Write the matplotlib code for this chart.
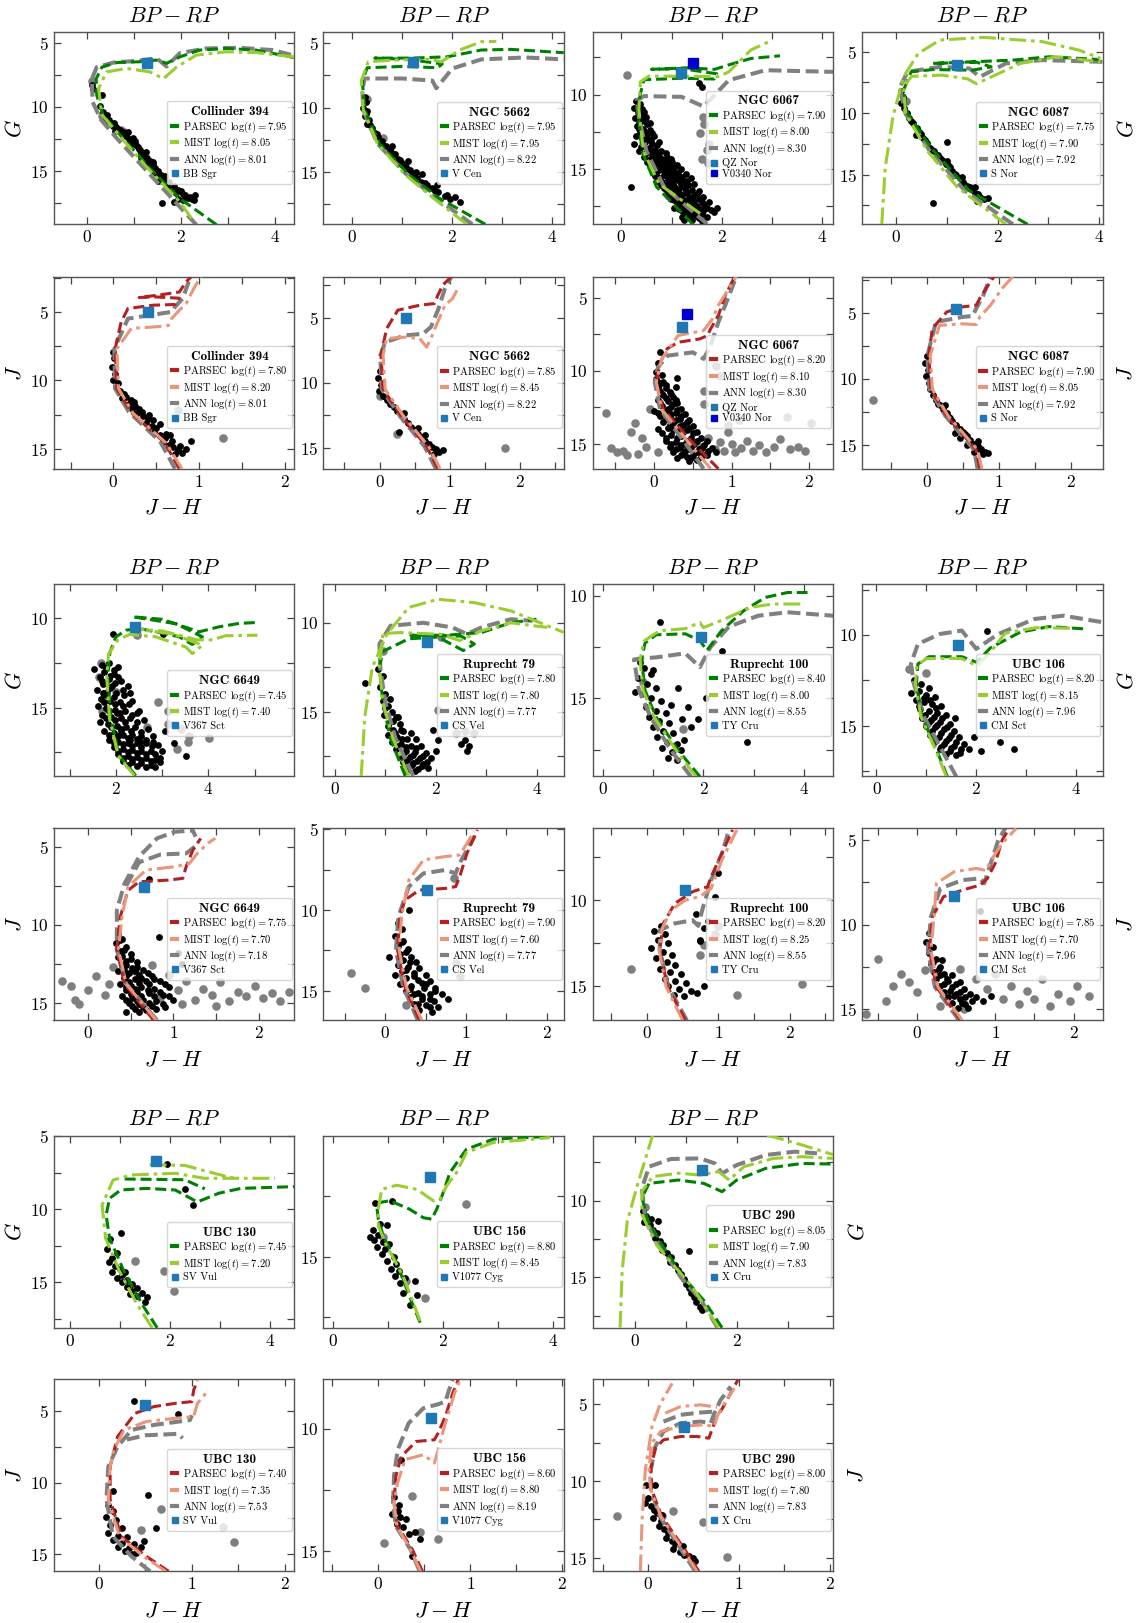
import numpy as np
import matplotlib
matplotlib.use("Agg")
import matplotlib.pyplot as plt
from matplotlib.lines import Line2D
from matplotlib.ticker import MultipleLocator

plt.rcParams["font.family"] = ["cmr10", "DejaVu Serif"]
plt.rcParams["mathtext.fontset"] = "cm"
plt.rcParams["axes.formatter.use_mathtext"] = True

# ---------------- data ----------------
# cluster names and cepheids
c394_name, c394_cephs = "Collinder 394", ["BB Sgr"]
n5662_name, n5662_cephs = "NGC 5662", ["V Cen"]
n6067_name, n6067_cephs = "NGC 6067", ["QZ Nor", "V0340 Nor"]
n6087_name, n6087_cephs = "NGC 6087", ["S Nor"]
n6649_name, n6649_cephs = "NGC 6649", ["V367 Sct"]
r79_name, r79_cephs = "Ruprecht 79", ["CS Vel"]
r100_name, r100_cephs = "Ruprecht 100", ["TY Cru"]
u106_name, u106_cephs = "UBC 106", ["CM Sct"]
u130_name, u130_cephs = "UBC 130", ["SV Vul"]
u156_name, u156_cephs = "UBC 156", ["V1077 Cyg"]
u290_name, u290_cephs = "UBC 290", ["X Cru"]

# log(t) for PARSEC, MIST, ANN (None = not shown)
c394_g_ages, c394_j_ages = [7.95, 8.05, 8.01], [7.80, 8.20, 8.01]
n5662_g_ages, n5662_j_ages = [7.95, 7.95, 8.22], [7.85, 8.45, 8.22]
n6067_g_ages, n6067_j_ages = [7.90, 8.00, 8.30], [8.20, 8.10, 8.30]
n6087_g_ages, n6087_j_ages = [7.75, 7.90, 7.92], [7.90, 8.05, 7.92]
n6649_g_ages, n6649_j_ages = [7.45, 7.40, None], [7.75, 7.70, 7.18]
r79_g_ages, r79_j_ages = [7.80, 7.80, 7.77], [7.90, 7.60, 7.77]
r100_g_ages, r100_j_ages = [8.40, 8.00, 8.55], [8.20, 8.25, 8.55]
u106_g_ages, u106_j_ages = [8.20, 8.15, 7.96], [7.85, 7.70, 7.96]
u130_g_ages, u130_j_ages = [7.45, 7.20, None], [7.40, 7.35, 7.53]
u156_g_ages, u156_j_ages = [8.80, 8.45, None], [8.60, 8.80, 8.19]
u290_g_ages, u290_j_ages = [8.05, 7.90, 7.83], [8.00, 7.80, 7.83]

# ---- Collinder 394 ----
c394_g_members = [(0.11,8.3),(0.14,8.6),(0.32,9.1),(0.28,9.9),(0.34,10.4),(0.40,10.9),(0.45,11.1),(0.52,11.3),(0.56,11.5),(0.63,11.6),(0.70,11.8),(0.78,12.0),(0.84,12.3),(0.90,12.5),(0.95,12.8),(0.99,12.4),(1.05,13.0),(1.10,13.3),(1.16,13.6),(1.20,13.9),(1.24,14.1),(1.30,14.4),(1.36,14.7),(1.40,14.3),(1.43,15.0),(1.48,15.2),(1.55,15.5),(1.61,15.8),(1.70,16.1),(1.80,16.4),(1.90,16.7),(2.00,16.6),(2.10,16.9),(2.20,17.0),(2.30,16.9),(1.95,17.2),(1.59,17.5),(1.85,17.4),(1.15,14.0),(1.00,12.9),(0.75,12.1),(0.60,11.9),(1.26,13.5),(1.66,15.4),(2.05,17.3),(2.23,17.2),(1.52,15.8),(0.88,12.0),
                  (0.42,10.6),(0.48,11.0),(0.58,11.3),(0.66,11.7),(0.72,11.9),(0.82,12.2),(0.92,12.6),(1.02,12.7),(1.08,13.1),(1.14,13.4),(1.22,13.7),(1.28,14.0),(1.34,14.2),(1.40,14.5),(1.46,14.8),(1.52,15.0),(1.58,15.3),(1.65,15.6),(1.75,15.9),(1.85,16.2),(1.95,16.5),(2.05,16.8),(2.15,17.1),(2.28,17.3)]
c394_g_others = [(0.12,8.0),(0.33,10.7),(0.72,11.8),(0.80,12.0),(1.60,15.6)]
c394_g_parsec = [(2.76,19.2),(1.98,17.16),(1.34,14.8),(0.71,12.2),(0.35,10.65),(0.21,9.09),(0.20,7.8),(0.32,6.9),(0.64,6.54),(1.13,6.48),(1.48,6.35),(1.70,6.6),(1.98,6.1),(2.40,5.57),(2.97,5.44),(3.60,5.57),(4.41,6.15)]
c394_g_mist = [(2.23,18.7),(1.95,17.3),(1.30,14.8),(0.68,12.2),(0.32,10.6),(0.25,8.57),(0.42,7.27),(0.85,7.0),(1.34,7.27),(1.63,7.8),(1.91,6.9),(2.33,5.96),(2.97,5.7),(3.6,5.76),(4.41,6.1)]
c394_g_ann = [(2.33,19.2),(1.9,17.5),(1.25,14.9),(0.6,12.3),(0.3,11.0),(0.12,9.6),(0.11,7.8),(0.21,6.9),(0.57,6.54),(1.1,6.4),(1.48,6.2),(1.70,6.85),(1.98,5.8),(2.54,5.44),(3.25,5.39),(3.96,5.57),(4.41,6.0)]
c394_g_ceph = [(1.29,6.6)]
c394_j_members = [(0.0,7.9),(0.01,8.4),(-0.02,9.0),(0.02,9.5),(0.0,10.0),(0.03,10.5),(0.08,10.8),(0.12,11.0),(0.15,11.2),(0.20,11.4),(0.18,11.7),(0.25,11.9),(0.30,12.1),(0.28,12.4),(0.35,12.6),(0.40,12.8),(0.38,13.1),(0.45,13.3),(0.50,13.5),(0.48,13.8),(0.55,14.0),(0.60,14.2),(0.58,14.5),(0.65,14.7),(0.70,14.9),(0.75,15.1),(0.80,15.3),(0.72,15.4),(0.91,14.4),(0.42,12.5),(0.62,13.9),(0.22,12.1),
                  (0.10,11.3),(0.24,11.6),(0.33,12.3),(0.46,12.9),(0.54,13.2),(0.66,14.0),(0.68,14.4),(0.78,14.8),(0.85,15.0),(0.05,10.2)]
c394_j_others = [(0.75,12.2),(1.28,14.2)]
c394_j_parsec = [(0.77,16.45),(0.6,14.56),(0.21,12.35),(0.04,10.6),(0.02,7.7),(0.09,5.74),(0.17,4.75),(0.47,4.51),(0.72,4.46),(0.77,4.0),(0.47,3.9),(0.30,3.95),(0.55,3.75),(0.77,3.55),(0.85,2.8),(0.91,2.43)]
c394_j_mist = [(0.80,16.45),(0.62,14.6),(0.23,12.4),(0.06,10.6),(0.04,7.7),(0.21,6.2),(0.47,6.1),(0.64,6.0),(0.68,5.49),(0.77,4.88),(0.85,4.4),(0.94,3.28),(1.02,2.43)]
c394_j_ann = [(0.72,16.45),(0.55,14.5),(0.18,12.3),(0.02,10.6),(0.01,7.7),(0.17,5.49),(0.47,5.2),(0.68,5.0),(0.72,4.63),(0.81,4.02),(0.88,2.79),(0.91,2.43)]
c394_j_ceph = [(0.40,5.0)]

# ---- NGC 5662 ----
n5662_g_members = [(0.25,9.2),(0.27,9.6),(0.22,10.0),(0.30,10.3),(0.26,10.7),(0.33,11.0),(0.30,11.3),(0.40,11.6),(0.45,12.0),(0.52,12.3),(0.60,12.6),(0.68,13.0),(0.75,13.3),(0.85,13.6),(0.92,14.0),(1.00,14.3),(1.08,14.6),(1.15,14.9),(1.22,15.2),(1.30,15.5),(1.38,15.8),(1.50,16.0),(1.60,16.3),(1.72,16.6),(1.85,16.9),(1.95,17.1),(2.05,17.0),(1.40,15.2),(1.12,14.2),(0.80,13.0),(1.70,16.0),(2.15,17.4),(1.28,15.0),
                   (0.28,10.5),(0.36,11.4),(0.50,12.1),(0.62,12.9),(0.78,13.5),(0.95,14.1),(1.05,14.8),(1.18,15.3),(1.45,15.9),(1.65,16.5),(1.90,16.8)]
n5662_g_others = [(0.30,9.3),(0.62,12.4)]
n5662_g_parsec = [(2.66,19.1),(1.71,17.0),(1.12,15.2),(0.54,12.8),(0.25,10.2),(0.20,7.9),(0.30,6.9),(1.0,6.8),(1.71,6.9),(1.80,6.6),(1.1,6.25),(0.45,6.15),(1.2,6.15),(1.9,6.05),(2.58,5.52),(3.17,5.47),(4.23,5.73)]
n5662_g_mist = [(2.29,19.1),(1.6,17.0),(1.05,15.2),(0.5,12.8),(0.22,10.2),(0.18,7.9),(0.32,6.44),(0.83,6.3),(1.56,6.25),(1.78,6.44),(2.15,5.52),(2.58,4.87),(2.88,4.85)]
n5662_g_ann = [(2.4,19.1),(1.65,17.0),(1.08,15.2),(0.5,12.8),(0.22,10.2),(0.2,8.6),(0.25,7.74),(1.0,7.74),(1.6,7.9),(1.68,8.5),(2.0,6.96),(2.58,6.25),(3.46,6.1),(4.23,6.25)]
n5662_g_ceph = [(1.21,6.44)]
n5662_j_members = [(0.0,9.1),(-0.02,9.6),(0.02,10.2),(-0.01,10.6),(0.05,11.0),(0.10,11.3),(0.15,11.6),(0.20,11.9),(0.25,12.2),(0.30,12.5),(0.35,12.8),(0.40,13.1),(0.45,13.4),(0.50,13.6),(0.55,13.9),(0.60,14.2),(0.65,14.5),(0.70,14.7),(0.75,14.9),(0.80,15.1),(0.85,15.3),(0.78,15.5),(0.90,15.2),(0.35,12.3),(0.55,13.5),(0.28,13.8),(0.65,14.0)]
n5662_j_others = [(0.25,13.9),(1.79,15.0),(0.0,11.0)]
n5662_j_parsec = [(0.83,16.6),(0.67,14.9),(0.31,12.55),(0.05,10.5),(0.02,7.9),(0.10,5.85),(0.26,4.43),(0.57,4.05),(0.78,3.92),(0.83,3.27),(0.90,2.5),(1.02,1.86)]
n5662_j_mist = [(0.86,16.6),(0.7,14.9),(0.34,12.55),(0.08,10.5),(0.05,7.9),(0.10,6.6),(0.36,6.5),(0.57,6.6),(0.67,7.27),(0.73,6.6),(0.83,5.3),(0.93,4.05),(1.04,3.53),(1.1,2.9)]
n5662_j_ann = [(0.80,16.6),(0.64,14.9),(0.29,12.55),(0.03,10.5),(0.01,7.9),(0.08,6.9),(0.36,6.37),(0.62,6.24),(0.73,5.72),(0.83,4.43),(0.93,2.76),(1.02,1.86)]
n5662_j_ceph = [(0.38,5.0)]

# ---- NGC 6067 ----
n6067_g_members = [(0.30,10.4),(0.38,10.6),(0.26,10.9),(0.42,11.0),(0.33,11.2),(0.40,11.4),(0.28,11.6),(0.47,11.7),(0.36,11.9),(0.52,12.0),(0.31,12.1),(0.44,12.3),(0.58,12.4),(0.38,12.6),(0.50,12.7),(0.65,12.8),(0.42,12.95),(0.56,13.0),(0.48,13.2),(0.62,13.3),(0.72,13.4),(0.40,13.5),(0.55,13.6),(0.68,13.7),(0.80,13.8),(0.50,13.9),(0.62,14.0),(0.75,14.1),(0.90,14.2),(0.58,14.3),(0.70,14.4),(0.85,14.5),(1.00,14.55),(0.62,14.6),(0.78,14.7),(0.95,14.8),(0.68,14.9),(0.88,15.0),(1.05,14.95),(0.75,15.1),(0.95,15.2),(1.12,15.25),(0.70,15.35),(0.85,15.4),(1.02,15.5),(1.20,15.55),(0.78,15.6),(0.92,15.7),(1.10,15.75),(0.82,15.85),(1.00,15.9),(1.30,15.8),(1.18,16.0),(0.88,16.1),(1.05,16.15),(1.25,16.2),(0.95,16.3),(1.15,16.35),(1.40,16.4),(0.90,16.5),(1.08,16.55),(1.30,16.6),(1.00,16.7),(1.20,16.75),(1.50,16.7),(1.12,16.9),(1.35,16.95),(0.98,17.0),(1.25,17.1),(1.45,17.15),(1.10,17.25),(1.60,17.2),(1.30,17.35),(1.20,17.5),(1.50,17.5),(1.38,17.65),(1.15,17.7),(1.62,17.8),(1.28,17.9),(1.45,18.0),(1.70,17.6),(1.35,18.2),(1.55,18.3),(1.25,18.4),(1.85,17.9),(1.05,17.6),(1.60,9.5),(1.55,9.2),(0.20,16.2),(1.90,17.6),(0.26,13.3),
                   (0.35,10.8),(0.45,11.2),(0.32,11.5),(0.50,11.5),(0.42,11.8),(0.58,11.9),(0.35,12.3),(0.48,12.5),(0.62,12.6),(0.30,12.8),(0.45,13.1),(0.60,13.1),(0.75,13.2),(0.35,13.8),(0.58,13.8),(0.72,13.9),(0.88,13.9),(0.45,14.2),(0.65,14.2),(0.82,14.3),(0.98,14.3),(0.52,14.5),(0.72,14.55),(0.90,14.6),(1.10,14.7),(0.58,14.8),(0.82,14.85),(1.00,14.9),(1.18,15.0),(0.62,15.1),(0.85,15.15),(1.05,15.3),(1.28,15.35),(0.68,15.5),(0.90,15.55),(1.15,15.6),(1.38,15.6),(0.72,15.8),(0.95,15.8),(1.22,15.85),(1.45,16.0),(0.80,16.05),(1.00,16.0),(1.32,16.1),(0.85,16.3),(1.05,16.4),(1.28,16.45),(1.55,16.5),(0.92,16.8),(1.15,16.6),(1.42,16.8),(1.62,16.9),(1.05,17.1),(1.35,17.1),(1.55,17.0),(1.75,17.2),(1.18,17.3),(1.42,17.4),(1.65,17.45),(1.10,17.5),(1.30,17.6),(1.55,17.7),(1.78,17.75),(1.20,17.85),(1.40,17.8),(1.60,18.0),(1.30,18.1),(1.50,18.15),(1.70,18.2),(1.40,18.4),(1.60,18.5),(1.20,18.2)]
n6067_g_others = [(1.62,11.5),(1.64,12.0),(1.57,12.6),(1.75,13.3),(1.70,13.7),(1.60,14.3),(1.72,14.6),(0.12,8.7)]
n6067_g_parsec = [(1.42,18.7),(0.7,16.2),(0.41,13.8),(0.33,11.06),(0.38,9.93),(0.45,9.0),(1.2,8.9),(1.85,8.95),(1.9,8.6),(1.2,8.25),(0.6,8.3),(1.3,8.2),(1.86,8.3),(2.14,8.0),(2.58,7.57),(3.16,7.39)]
n6067_g_mist = [(1.57,18.0),(0.75,16.0),(0.44,13.8),(0.35,11.0),(0.38,9.14),(0.55,8.76),(1.28,8.76),(1.93,8.8),(2.14,8.47),(2.58,7.0),(3.01,6.33)]
n6067_g_ann = [(1.71,18.7),(0.85,16.2),(0.5,13.8),(0.35,11.5),(0.3,10.4),(0.45,10.1),(1.2,10.15),(1.64,10.8),(2.14,9.03),(2.87,8.36),(4.22,8.47)]
n6067_g_ceph = [(1.19,8.54),(1.42,7.9)]
n6067_j_members = [(0.08,8.7),(0.05,9.5),(0.03,10.1),(0.10,10.3),(0.02,10.6),(0.12,10.8),(0.06,11.0),(0.15,11.2),(0.08,11.4),(0.20,11.5),(0.12,11.7),(0.25,11.8),(0.05,12.0),(0.18,12.1),(0.30,12.2),(0.10,12.4),(0.22,12.5),(0.35,12.6),(0.15,12.8),(0.28,12.9),(0.40,13.0),(0.08,13.1),(0.20,13.2),(0.33,13.3),(0.45,13.4),(0.12,13.5),(0.25,13.6),(0.38,13.7),(0.50,13.8),(0.18,13.9),(0.30,14.0),(0.42,14.1),(0.55,14.2),(0.10,14.3),(0.22,14.4),(0.35,14.5),(0.48,14.6),(0.60,14.6),(0.15,14.8),(0.28,14.9),(0.40,15.0),(0.52,15.0),(0.65,15.1),(0.20,15.2),(0.33,15.3),(0.45,15.4),(0.58,15.4),(0.70,15.5),(0.25,15.6),(0.38,15.7),(0.50,15.8),(0.62,15.7),(0.30,16.0),(0.42,15.95),(0.75,15.3),(0.55,16.1),(0.68,14.8),(0.80,15.6),(0.05,14.0),(0.00,12.8),(0.30,10.5),(0.28,11.1),
                   (0.05,10.8),(0.15,11.0),(0.10,11.6),(0.22,11.6),(0.15,11.9),(0.28,12.0),(0.08,12.2),(0.25,12.3),(0.18,12.6),(0.30,12.7),(0.05,12.9),(0.22,13.0),(0.35,13.1),(0.15,13.3),(0.28,13.4),(0.42,13.5),(0.20,13.7),(0.33,13.8),(0.45,13.9),(0.25,14.1),(0.38,14.2),(0.50,14.3),(0.15,14.6),(0.30,14.6),(0.42,14.8),(0.55,14.8),(0.22,15.0),(0.35,15.1),(0.48,15.2),(0.62,15.3),(0.28,15.4),(0.40,15.5),(0.55,15.6),(0.68,15.75),(0.35,15.8),(0.48,16.0),(0.60,15.9),(0.45,16.2)]
n6067_j_others = [(-0.62,12.9),(-0.55,15.3),(-0.48,15.6),(-0.40,15.5),(-0.30,14.2),(-0.25,13.6),(-0.15,14.6),(-0.10,15.2),(-0.05,12.6),(-0.35,15.8),(-0.20,15.7),(0.05,15.6),(0.60,15.2),(0.70,14.6),(0.78,15.4),(0.85,14.9),(0.90,15.5),(1.00,15.0),(1.05,15.6),(1.12,15.3),(1.20,14.8),(1.28,15.5),(1.35,15.1),(1.45,15.6),(1.55,15.2),(1.62,14.7),(1.75,15.4),(1.85,15.2),(1.95,15.5),(0.95,14.2),(1.10,13.4),(0.65,11.4),(0.85,10.4),(0.80,9.7),(1.72,13.2),(2.02,13.6),(0.65,12.3),(0.95,13.7)]
n6067_j_parsec = [(0.83,16.72),(0.50,14.95),(0.12,12.66),(0.03,10.8),(0.08,9.44),(0.17,8.5),(0.31,8.06),(0.59,7.83),(0.69,7.6),(0.73,7.14),(0.83,6.22),(0.92,4.84),(1.04,3.57)]
n6067_j_mist = [(0.73,16.72),(0.45,14.95),(0.10,12.66),(0.03,10.8),(0.10,9.2),(0.31,7.6),(0.64,7.25),(0.75,6.5),(0.83,5.53),(1.06,3.57)]
n6067_j_ann = [(0.64,16.72),(0.40,14.95),(0.08,12.66),(0.01,10.8),(0.05,9.8),(0.17,8.98),(0.50,8.75),(0.64,9.2),(0.73,8.29),(0.83,6.68),(0.97,4.84),(1.06,3.57)]
n6067_j_ceph = [(0.36,7.02),(0.43,6.1)]

# ---- NGC 6087 ----
n6087_g_members = [(0.10,8.2),(0.13,8.7),(0.10,9.2),(0.15,9.6),(0.20,10.0),(0.25,10.4),(0.32,10.8),(0.40,11.2),(0.45,11.5),(0.38,11.8),(0.52,12.0),(0.60,12.4),(0.66,12.8),(0.75,13.1),(0.82,13.4),(0.90,13.8),(0.97,14.1),(1.05,14.4),(1.10,14.7),(1.18,15.0),(1.25,15.3),(1.32,15.6),(1.40,15.9),(1.48,16.2),(1.55,16.5),(1.65,16.8),(1.72,17.0),(1.80,16.9),(1.30,15.2),(1.00,13.9),(1.55,16.0),(0.72,17.3),(1.60,17.1),(1.00,12.3),
                   (0.28,10.6),(0.48,11.7),(0.56,12.2),(0.70,13.0),(0.86,13.6),(1.02,14.2),(1.15,14.9),(1.35,15.8),(1.45,16.0),(1.62,16.6)]
n6087_g_others = [(0.18,9.0),(0.45,11.6)]
n6087_g_parsec = [(2.59,19.03),(1.44,16.3),(0.72,13.0),(0.22,10.04),(0.14,8.13),(0.29,6.63),(0.72,6.45),(1.5,6.5),(1.87,6.23),(1.58,5.85),(0.72,5.95),(1.5,5.82),(2.30,5.68),(3.02,5.41),(4.0,5.63)]
n6087_g_mist = [(2.16,19.03),(1.2,16.0),(0.6,13.0),(0.18,10.0),(0.14,7.86),(0.3,7.0),(0.9,6.9),(1.4,7.2),(1.58,7.6),(2.45,5.95),(3.17,5.41),(4.03,5.82),None,(-0.29,19.03),(-0.22,14.4),(-0.07,10.3),(0.14,7.04),(0.43,5.14),(0.86,4.05),(1.73,3.83),(2.88,4.18),(3.6,4.86),(4.03,5.54)]
n6087_g_ann = [(2.3,19.03),(1.35,16.3),(0.65,13.0),(0.18,10.04),(0.07,7.86),(0.22,6.63),(0.86,6.23),(1.44,6.36),(1.65,7.04),(2.16,5.95),(2.88,5.68),(4.07,5.82)]
n6087_g_ceph = [(1.19,6.09)]
n6087_j_members = [(0.0,8.3),(-0.03,8.8),(0.01,9.3),(-0.02,9.8),(0.02,10.3),(0.04,10.8),(0.08,11.2),(0.12,11.6),(0.18,12.0),(0.22,12.3),(0.27,12.6),(0.30,12.9),(0.35,13.2),(0.40,13.5),(0.45,13.8),(0.50,14.0),(0.55,14.3),(0.60,14.6),(0.65,14.9),(0.70,15.1),(0.75,15.3),(0.80,15.5),(0.85,15.6),(0.38,14.1),(0.55,15.0),(0.65,15.5),(0.25,12.0),(0.45,14.5),(0.70,14.7),
                   (0.15,11.9),(0.32,13.0),(0.42,13.7),(0.52,14.2),(0.62,14.9),(0.72,15.4),(0.78,15.7)]
n6087_j_others = [(-0.76,11.6)]
n6087_j_parsec = [(0.73,16.8),(0.68,15.36),(0.27,12.8),(0.05,10.8),(0.02,8.25),(0.07,6.2),(0.27,4.95),(0.48,4.57),(0.68,4.44),(0.73,3.93),(0.83,3.05),(0.93,2.28)]
n6087_j_mist = [(0.76,16.8),(0.70,15.36),(0.29,12.8),(0.07,10.8),(0.04,8.25),(0.17,5.96),(0.48,5.84),(0.68,5.9),(0.73,5.33),(0.88,4.44),(1.04,3.17),(1.19,2.28)]
n6087_j_ann = [(0.70,16.8),(0.65,15.36),(0.25,12.8),(0.03,10.8),(0.0,8.25),(0.12,5.71),(0.48,5.33),(0.63,5.25),(0.68,4.7),(0.78,3.68),(0.88,2.28)]
n6087_j_ceph = [(0.40,4.7)]

# ---- NGC 6649 ----
n6649_g_members = [(1.93,10.9),(1.53,12.85),(1.70,12.6),(1.85,12.5),(2.05,12.7),(1.75,13.0),(1.95,13.1),(1.65,13.3),(1.85,13.4),(2.10,13.5),(1.72,13.7),(1.92,13.8),(2.25,13.8),(1.60,14.0),(1.80,14.1),(2.00,14.2),(2.18,14.3),(1.68,14.5),(1.88,14.6),(2.08,14.7),(2.35,14.6),(1.62,14.9),(1.78,15.0),(1.98,15.1),(2.20,15.2),(2.45,15.3),(1.70,15.4),(1.90,15.5),(2.10,15.6),(2.30,15.6),(2.60,15.7),(1.65,15.8),(1.82,15.9),(2.02,16.0),(2.22,16.1),(2.42,16.1),(2.70,16.2),(1.75,16.3),(1.95,16.4),(2.15,16.5),(2.35,16.5),(2.55,16.6),(2.80,16.6),(1.85,16.8),(2.05,16.9),(2.25,16.95),(2.45,17.0),(2.65,17.0),(2.90,17.1),(1.95,17.2),(2.15,17.3),(2.35,17.35),(2.55,17.4),(2.75,17.4),(2.05,17.6),(2.25,17.7),(2.45,17.75),(2.65,17.8),(2.85,17.9),(2.15,18.0),(2.35,18.05),(2.55,18.1),(2.75,18.2),(2.95,17.8),(1.88,13.9),(2.12,16.3),(2.30,16.8),(2.52,16.9),(1.72,14.2),(2.02,15.3),(3.05,16.3),(3.51,17.7),(3.25,17.0),(2.50,15.2),(3.01,10.9),
                   (1.78,12.8),(1.95,12.9),(1.88,13.2),(2.05,13.3),(1.70,13.5),(1.98,13.6),(2.15,14.0),(1.78,14.3),(1.95,14.4),(2.30,14.2),(1.75,14.7),(1.98,14.8),(2.15,14.9),(2.28,14.8),(1.85,15.2),(2.08,15.3),(2.35,15.4),(1.78,15.6),(1.98,15.7),(2.20,15.8),(2.45,15.8),(1.90,16.1),(2.12,16.2),(2.32,16.3),(2.55,16.35),(1.85,16.55),(2.05,16.6),(2.25,16.7),(2.45,16.75),(2.65,16.8),(1.95,17.0),(2.15,17.05),(2.35,17.15),(2.55,17.2),(2.78,17.15),(2.05,17.4),(2.25,17.5),(2.45,17.55),(2.65,17.6),(2.85,17.6),(2.15,17.8),(2.35,17.85),(2.55,17.9),(2.75,18.0),(2.95,18.05),(2.25,18.2),(2.45,18.25),(2.65,18.3),(2.85,18.3),(3.0,17.4),(2.8,16.9)]
n6649_g_others = [(1.68,12.5),(1.64,13.3),(2.90,14.7),(3.12,15.2),(3.12,15.9),(3.33,17.3),(3.55,16.9),(4.01,16.7),(2.68,16.1),(2.0,14.1),(2.45,10.95),(1.70,15.2),(3.58,16.6),(3.4,16.2)]
n6649_g_parsec = [(2.43,18.8),(2.07,17.7),(1.89,15.6),(1.82,13.2),(1.87,11.9),(2.0,11.03),(2.22,10.66),(2.5,10.56),(3.37,11.03),(3.65,11.46),(3.87,11.03),(3.3,10.3),(2.36,9.91),(3.0,10.05),(3.80,10.75),(4.23,10.47),(4.66,10.28),(5.09,10.22)]
n6649_g_mist = [(2.40,18.8),(2.05,17.7),(1.86,15.6),(1.80,13.2),(1.84,12.0),(2.04,11.2),(2.29,10.9),(2.86,11.03),(3.51,11.6),(3.65,11.97),(3.87,11.5),(3.2,10.85),(2.4,10.6),(3.0,10.7),(3.75,11.2),(4.09,11.2),(4.37,10.97),(5.06,10.94)]
n6649_g_ann = None
n6649_g_ceph = [(2.41,10.47)]
n6649_j_members = [(0.72,7.1),(0.83,10.8),(0.35,10.6),(0.40,10.9),(0.33,11.2),(0.45,11.4),(0.38,11.7),(0.50,11.9),(0.35,12.1),(0.45,12.3),(0.58,12.4),(0.40,12.6),(0.52,12.8),(0.65,12.9),(0.35,13.0),(0.48,13.1),(0.60,13.2),(0.75,13.3),(0.42,13.4),(0.55,13.5),(0.68,13.6),(0.85,13.6),(0.38,13.8),(0.50,13.9),(0.62,14.0),(0.78,14.1),(0.95,14.0),(0.45,14.2),(0.58,14.3),(0.72,14.4),(0.88,14.5),(0.40,14.6),(0.52,14.7),(0.65,14.8),(0.80,14.9),(1.00,14.8),(0.48,15.0),(0.60,15.1),(0.75,15.2),(0.90,15.3),(0.55,15.4),(0.68,15.5),(1.10,12.5),(1.05,11.8),(0.45,15.6),
                   (0.38,11.0),(0.42,11.6),(0.40,12.0),(0.50,12.2),(0.45,12.6),(0.58,12.7),(0.42,12.9),(0.55,13.0),(0.70,13.1),(0.45,13.3),(0.62,13.4),(0.78,13.5),(0.48,13.7),(0.60,13.75),(0.72,13.8),(0.90,13.8),(0.45,14.0),(0.55,14.1),(0.70,14.2),(0.85,14.3),(0.50,14.45),(0.62,14.55),(0.78,14.6),(0.95,14.6),(0.45,14.8),(0.58,14.9),(0.72,15.0),(0.88,15.1),(0.52,15.2),(0.65,15.3),(0.80,15.4),(0.60,15.6)]
n6649_j_others = [(-0.3,13.6),(-0.2,13.9),(-0.15,14.8),(0.0,14.2),(0.1,13.3),(0.2,14.5),(0.25,13.8),(0.55,13.0),(0.75,12.6),(0.95,13.2),(1.05,14.2),(1.15,13.6),(1.25,14.8),(1.35,14.1),(1.45,14.5),(1.55,13.7),(1.65,14.9),(1.75,14.3),(1.85,14.6),(1.95,13.9),(2.05,14.7),(2.15,14.4),(2.25,14.9),(2.35,14.3),(1.10,15.1),(0.30,12.7),(-0.1,15.1),(1.5,15.2),(0.85,14.7)]
n6649_j_parsec = [(0.77,16.13),(0.43,13.8),(0.34,11.6),(0.38,9.5),(0.47,7.8),(0.6,7.25),(0.94,7.14),(1.11,7.03),(1.15,6.28),(1.23,5.2),(1.32,4.47)]
n6649_j_mist = [(0.80,16.13),(0.45,13.8),(0.36,11.6),(0.40,9.5),(0.47,7.57),(0.68,6.5),(1.02,6.28),(1.19,6.07),(1.28,5.43),(1.40,4.79),(1.49,4.46)]
n6649_j_ann = [(0.81,16.13),(0.45,13.8),(0.34,11.6),(0.34,9.07),(0.43,7.36),(0.6,5.64),(0.81,4.46),(1.02,4.04),(1.23,3.97),(1.26,4.36),None,(0.45,7.5),(0.6,6.0),(0.85,5.5),(1.15,5.43),(1.25,5.0)]
n6649_j_ceph = [(0.66,7.57)]

# ---- Ruprecht 79 ----
r79_g_members = [(0.59,13.4),(0.90,13.6),(1.00,14.0),(0.95,14.4),(1.05,14.7),(1.12,15.0),(0.98,15.2),(1.20,15.3),(1.08,15.6),(1.28,15.7),(1.15,16.0),(1.35,16.1),(1.50,16.2),(1.05,16.3),(1.22,16.4),(1.42,16.5),(1.60,16.5),(1.12,16.7),(1.30,16.8),(1.50,16.9),(1.70,16.9),(1.20,17.1),(1.40,17.2),(1.58,17.25),(1.80,17.3),(1.28,17.5),(1.48,17.55),(1.68,17.6),(1.90,17.6),(1.35,17.8),(1.55,17.9),(1.75,17.95),(1.45,18.1),(1.65,18.2),(1.85,18.15),(2.00,17.2),(2.05,16.6),(2.50,16.8),(2.62,17.2),(2.58,16.6),(1.95,16.0),(1.25,15.3),(0.85,12.6),(0.95,13.0),(1.10,14.3),
                 (1.05,15.8),(1.18,16.2),(1.32,16.5),(1.25,16.9),(1.40,17.0),(1.60,17.05),(1.35,17.35),(1.55,17.4),(1.75,17.5),(1.42,17.7),(1.62,17.75),(1.82,17.8),(1.52,18.0),(1.72,18.05),(1.58,18.3),(1.40,18.3),(1.15,15.5),(1.30,16.0),(1.00,14.8),(2.65,16.9)]
r79_g_others = [(2.40,16.2),(2.58,16.1),(2.75,16.2),(2.05,14.9),(0.95,11.6),(2.1,10.8)]
r79_g_parsec = [(1.39,18.6),(1.1,16.5),(0.95,14.5),(0.88,12.5),(0.95,11.6),(1.1,11.4),(1.46,10.9),(2.04,10.8),(2.54,11.56),(2.76,11.19),(2.5,10.75),(1.5,10.7),(2.2,10.7),(2.9,10.55),(3.48,10.0),(3.99,9.8)]
r79_g_mist = [(1.46,18.6),(1.15,16.5),(0.95,14.5),(0.88,12.5),(0.95,10.6),(1.3,10.55),(2.1,10.65),(2.47,11.0),(2.9,10.45),(3.48,10.0),(4.2,10.26),None,(0.52,18.62),(0.59,15.3),(0.74,12.5),(1.03,10.63),(1.46,9.14),(2.04,8.68),(2.76,8.87),(3.48,9.33),(4.53,10.54)]
r79_g_ann = [(1.55,18.6),(1.2,16.5),(1.0,14.5),(0.9,12.6),(0.88,11.19),(1.1,10.17),(1.75,10.0),(2.32,10.26),(2.61,10.63),(2.9,10.26),(3.48,9.8),(3.91,9.89)]
r79_g_ceph = [(1.82,11.1)]
r79_j_members = [(0.29,10.0),(0.15,10.8),(0.20,11.2),(0.12,11.6),(0.22,11.9),(0.15,12.2),(0.28,12.4),(0.18,12.7),(0.32,12.9),(0.22,13.1),(0.38,13.2),(0.15,13.4),(0.28,13.5),(0.42,13.6),(0.20,13.8),(0.35,13.9),(0.50,14.0),(0.25,14.2),(0.40,14.3),(0.55,14.4),(0.18,14.6),(0.32,14.7),(0.48,14.8),(0.62,14.8),(0.25,15.0),(0.40,15.1),(0.55,15.2),(0.70,15.2),(0.30,15.4),(0.45,15.5),(0.60,15.6),(0.35,15.8),(0.50,15.9),(0.65,16.0),(0.42,16.2),(0.58,16.3),(0.78,15.5),(0.12,14.0),(0.05,12.9),
                 (0.20,12.0),(0.25,12.6),(0.30,13.2),(0.25,13.7),(0.35,14.1),(0.45,14.5),(0.30,14.9),(0.45,15.3),(0.55,15.5),(0.40,15.8),(0.55,16.0),(0.35,15.2),(0.50,14.6),(0.62,15.0)]
r79_j_others = [(-0.43,13.9),(-0.25,14.8),(0.87,13.3),(0.92,14.1),(0.25,15.9),(0.85,8.0)]
r79_j_parsec = [(0.42,16.8),(0.24,14.75),(0.15,12.48),(0.18,10.4),(0.24,9.38),(0.42,8.76),(0.74,8.66),(0.87,8.55),(0.92,7.93),(1.01,6.49),(1.14,5.04)]
r79_j_mist = [(0.45,16.8),(0.26,14.75),(0.17,12.48),(0.2,10.4),(0.29,8.14),(0.47,6.9),(0.74,6.69),(0.92,6.59),(1.01,5.87),(1.10,5.14)]
r79_j_ann = [(0.40,16.8),(0.22,14.75),(0.13,12.48),(0.16,10.4),(0.29,8.55),(0.47,7.73),(0.74,7.52),(0.87,7.73),(0.92,7.1),(1.01,6.28),(1.10,5.45)]
r79_j_ceph = [(0.51,8.76)]

# ---- Ruprecht 100 ----
r100_g_members = [(1.13,11.3),(0.75,13.2),(0.82,13.5),(0.95,13.8),(0.70,14.0),(0.88,14.3),(1.05,14.5),(0.78,14.8),(0.95,15.0),(1.15,15.1),(0.85,15.4),(1.05,15.6),(1.25,15.7),(0.92,15.9),(1.12,16.1),(1.32,16.2),(1.00,16.4),(1.20,16.6),(1.40,16.7),(1.08,16.9),(1.28,17.1),(1.48,17.2),(1.18,17.4),(1.38,17.6),(1.55,17.5),(1.30,17.9),(1.48,18.0),(1.62,17.0),(1.75,16.4),(1.90,16.0),(2.36,12.7),(2.87,17.1),(1.50,14.5),(1.35,15.3),(0.65,14.7),(1.70,15.4),(1.58,16.0),(1.00,13.6),(2.05,15.0)]
r100_g_others = [(0.80,14.2),(1.60,16.5)]
r100_g_parsec = [(1.93,18.8),(1.49,17.5),(1.06,15.9),(0.84,14.6),(0.77,13.1),(0.84,12.3),(1.06,11.9),(1.64,11.85),(1.93,12.18),(2.07,12.66),(2.36,11.7),(2.80,10.73),(3.23,10.08),(3.67,9.84),(4.07,9.84)]
r100_g_mist = [(1.85,18.8),(1.45,17.5),(1.02,15.9),(0.8,14.6),(0.74,13.1),(0.82,12.2),(1.13,11.7),(1.64,11.6),(1.93,11.3),(2.0,11.55),(2.36,11.2),(2.94,10.56),(3.38,10.4),(3.96,10.4)]
r100_g_ann = [(1.75,18.8),(1.35,17.5),(0.95,15.9),(0.72,14.6),(0.62,13.1),(0.75,13.05),(1.06,13.0),(1.64,12.8),(1.93,13.47),(2.14,12.5),(2.51,11.5),(3.09,10.97),(3.67,10.8),(4.58,10.97)]
r100_g_ceph = [(1.96,12.0)]
r100_j_members = [(1.00,8.4),(0.95,9.8),(0.20,11.5),(0.10,11.8),(0.25,12.0),(0.15,12.3),(0.30,12.5),(0.05,12.8),(0.22,13.0),(0.35,13.2),(0.12,13.4),(0.28,13.6),(0.40,13.8),(0.18,14.0),(0.32,14.2),(0.48,14.3),(0.25,14.6),(0.40,14.7),(0.55,14.8),(0.30,15.0),(0.45,15.2),(0.62,15.3),(0.38,15.5),(0.52,15.6),(0.70,15.4),(0.80,15.0),(0.75,12.3),(0.85,11.2),(0.69,10.8),(0.80,11.6),(0.74,12.4)]
r100_j_others = [(-0.22,14.0),(2.17,14.9),(1.26,15.5),(0.8,12.6),(0.75,13.2),(0.95,12.0),(1.0,11.5)]
r100_j_parsec = [(0.54,17.0),(0.29,15.06),(0.18,12.9),(0.23,11.36),(0.39,10.2),(0.64,9.51),(0.85,9.22),(0.90,8.64),(1.05,7.28),(1.20,5.91)]
r100_j_mist = [(0.50,17.0),(0.27,15.06),(0.17,12.9),(0.22,11.6),(0.34,10.58),(0.54,10.0),(0.74,9.8),(0.90,9.32),(1.05,7.67),(1.26,5.91)]
r100_j_ann = [(0.56,17.0),(0.30,15.06),(0.18,12.9),(0.18,11.75),(0.39,11.36),(0.64,11.17),(0.72,11.5),(0.78,10.5),(0.9,8.83),(1.05,7.3),(1.15,5.91)]
r100_j_ceph = [(0.54,9.42)]

# ---- UBC 106 ----
u106_g_members = [(2.22,9.8),(0.75,12.5),(0.90,12.7),(1.05,12.9),(0.85,13.1),(1.00,13.3),(1.18,13.4),(0.80,13.6),(0.95,13.7),(1.12,13.8),(1.30,13.9),(0.88,14.1),(1.05,14.2),(1.22,14.3),(1.40,14.4),(0.92,14.6),(1.10,14.7),(1.28,14.8),(1.48,14.9),(1.00,15.0),(1.18,15.1),(1.35,15.2),(1.55,15.3),(1.08,15.5),(1.25,15.6),(1.45,15.7),(1.65,15.6),(1.15,15.9),(1.35,16.0),(1.55,16.1),(1.75,16.0),(1.28,16.3),(1.48,16.4),(1.68,16.5),(1.85,16.3),(2.47,15.9),(2.76,16.3),(0.70,13.2),(1.58,14.6),(1.95,15.6),(2.10,16.4),
                  (0.95,13.5),(1.08,13.6),(1.20,14.0),(0.98,14.4),(1.15,14.5),(1.32,14.6),(1.05,14.8),(1.22,14.95),(1.42,15.05),(1.12,15.3),(1.30,15.4),(1.50,15.5),(1.20,15.75),(1.40,15.85),(1.60,15.9),(1.30,16.15),(1.50,16.25),(1.70,16.3),(1.40,16.55),(1.60,16.6),(0.85,13.9)]
u106_g_others = [(0.65,11.9),(1.0,12.1)]
u106_g_parsec = [(1.42,17.8),(1.2,16.3),(0.91,14.5),(0.8,12.7),(0.83,11.6),(1.05,11.2),(1.71,11.2),(2.0,11.5),(2.29,10.7),(2.88,9.85),(3.46,9.54),(4.19,9.67)]
u106_g_mist = [(1.40,17.8),(1.18,16.3),(0.89,14.5),(0.78,12.7),(0.81,11.7),(1.0,11.3),(1.7,11.3),(2.02,11.7),(2.3,10.9),(2.58,9.9),(3.2,9.6),(3.9,9.63)]
u106_g_ann = [(1.6,17.8),(1.3,16.3),(0.95,14.5),(0.75,12.7),(0.69,11.6),(0.83,10.5),(1.27,9.95),(1.71,9.76),(2.0,10.77),(2.44,9.95),(3.17,9.12),(3.75,8.94),(4.53,9.3)]
u106_g_ceph = [(1.64,10.58)]
u106_j_members = [(0.81,9.2),(0.15,10.5),(0.12,11.0),(0.20,11.3),(0.15,11.7),(0.25,12.0),(0.18,12.3),(0.30,12.5),(0.22,12.8),(0.35,12.9),(0.45,13.0),(0.25,13.2),(0.40,13.3),(0.55,13.4),(0.30,13.6),(0.45,13.7),(0.60,13.8),(0.35,14.0),(0.50,14.1),(0.68,14.1),(0.40,14.3),(0.55,14.4),(0.75,14.3),(0.45,14.6),(0.62,14.7),(0.85,14.5),(0.52,14.9),(0.95,14.2),(0.32,12.1),
                  (0.20,12.2),(0.28,12.6),(0.30,13.0),(0.38,13.2),(0.35,13.5),(0.50,13.5),(0.42,13.9),(0.55,14.0),(0.48,14.2),(0.62,14.3),(0.58,14.6),(0.70,14.5),(0.65,14.9)]
u106_j_others = [(-0.65,15.3),(-0.4,14.5),(-0.3,13.6),(-0.2,12.9),(-0.1,13.4),(0.0,14.0),(0.1,12.7),(0.3,14.8),(0.55,12.6),(0.75,13.2),(0.9,13.8),(1.0,12.9),(1.1,14.4),(1.2,13.6),(1.3,14.7),(1.4,13.9),(1.5,14.4),(1.6,13.2),(1.7,14.8),(1.8,14.1),(1.95,14.5),(2.05,13.6),(2.2,14.2),(0.6,15.0),(-0.5,12.0)]
u106_j_parsec = [(0.56,15.65),(0.25,13.68),(0.16,11.5),(0.20,9.54),(0.34,8.35),(0.58,7.96),(0.81,7.66),(0.90,7.27),(1.0,6.38),(1.09,5.0),(1.18,4.31)]
u106_j_mist = [(0.58,15.65),(0.27,13.68),(0.18,11.5),(0.22,9.54),(0.25,7.56),(0.48,6.87),(0.76,6.68),(0.88,6.8),(0.95,6.18),(1.09,5.2),(1.27,4.31)]
u106_j_ann = [(0.54,15.65),(0.23,13.68),(0.14,11.5),(0.18,9.54),(0.30,7.86),(0.58,7.37),(0.81,7.27),(0.86,7.56),(0.93,6.58),(1.04,5.0),(1.13,4.31)]
u106_j_ceph = [(0.48,8.31)]

# ---- UBC 130 ----
u130_g_members = [(0.80,12.0),(0.75,12.7),(0.95,13.0),(0.85,13.3),(1.02,11.6),(0.78,13.6),(0.90,13.9),(1.00,14.1),(0.85,14.3),(1.05,14.5),(0.95,14.7),(1.15,14.8),(1.05,15.0),(1.25,15.1),(1.15,15.3),(1.35,15.4),(1.25,15.6),(1.45,15.7),(1.35,15.9),(1.55,16.0),(1.50,16.3),(1.10,14.3),(1.20,15.8),(2.47,9.7),(2.31,8.6),(1.95,6.9)]
u130_g_others = [(1.31,13.5),(1.89,14.2),(2.08,15.6)]
u130_g_parsec = [(1.75,18.1),(1.45,16.5),(1.09,14.26),(0.80,11.98),(0.73,10.39),(0.80,9.25),(1.02,8.68),(1.53,8.57),(2.11,8.68),(2.55,9.5),(2.98,8.9),(3.42,8.57),(4.48,8.45),None,(1.1,7.93),(2.3,7.98),(2.7,8.6)]
u130_g_mist = [(1.65,18.1),(1.35,16.5),(1.0,14.26),(0.72,11.98),(0.65,9.7),(0.87,8.0),(1.24,7.65),(2.11,7.54),(2.69,7.88),(3.27,7.88),(4.1,7.88),None,(1.6,6.95),(2.3,7.0),(2.9,7.55),(3.3,7.9)]
u130_g_ann = None
u130_g_ceph = [(1.72,6.7)]
u130_j_members = [(0.38,4.3),(0.85,5.2),(0.53,10.9),(0.10,11.6),(0.15,12.0),(0.08,12.4),(0.18,12.6),(0.12,13.0),(0.25,13.2),(0.10,13.5),(0.20,13.7),(0.30,13.8),(0.15,14.0),(0.25,14.2),(0.38,14.3),(0.20,14.5),(0.32,14.6),(0.45,14.5),(0.28,14.8),(0.40,14.9),(0.61,13.2),(0.48,14.1),(0.15,10.6),(0.35,15.0)]
u130_j_others = [(0.67,11.86),(1.33,13.1),(1.45,14.16),(0.45,13.3)]
u130_j_parsec = [(0.75,16.2),(0.51,15.16),(0.24,13.77),(0.12,11.2),(0.12,8.88),(0.20,6.79),(0.39,5.16),(0.59,4.7),(0.82,4.47),(1.0,4.35),(1.02,3.53),(1.06,2.88)]
u130_j_mist = [(0.72,16.2),(0.48,15.16),(0.22,13.77),(0.10,11.2),(0.12,8.88),(0.16,7.72),(0.27,6.33),(0.51,5.74),(0.82,5.51),(1.02,5.4),(1.06,4.47),(1.18,3.53)]
u130_j_ann = [(0.55,16.2),(0.35,15.16),(0.15,13.77),(0.08,11.2),(0.10,8.88),(0.2,7.49),(0.35,6.33),(0.59,5.98),(0.86,5.74),(0.98,5.63),(1.0,5.3),None,(0.3,7.0),(0.5,6.7),(0.85,6.6),(0.9,6.9)]
u130_j_ceph = [(0.49,4.58)]

# ---- UBC 156 ----
u156_g_members = [(0.76,12.8),(1.06,12.7),(0.85,13.67),(0.97,13.7),(0.67,14.2),(0.75,14.3),(0.82,14.1),(0.90,14.4),(0.80,14.6),(0.95,14.7),(1.02,14.5),(0.88,14.9),(1.10,15.0),(0.98,15.2),(1.15,15.3),(1.05,15.5),(1.20,15.6),(1.12,15.8),(1.21,16.07),(1.27,16.48),(1.52,16.6),(1.39,17.0),(1.48,16.0),(0.72,13.9),(1.30,15.9)]
u156_g_others = [(2.42,12.84),(0.91,14.2),(1.33,16.0),(1.67,16.7)]
u156_g_parsec = [(1.58,17.72),(1.45,17.0),(1.15,15.25),(0.91,14.15),(0.82,13.46),(0.79,12.9),(0.85,12.77),(1.03,12.7),(1.39,13.05),(1.64,13.4),(1.79,13.46),(1.88,13.05),(2.0,12.36),(2.12,11.54),(2.42,10.58),(2.91,10.16),(3.94,10.05)]
u156_g_mist = [(1.58,17.65),(1.27,15.8),(0.97,14.56),(0.82,13.74),(0.82,13.05),(0.88,12.23),(1.15,12.06),(1.52,12.23),(1.82,12.7),(1.94,12.64),(2.06,12.09),(2.24,11.54),(2.42,10.71),(2.91,10.3),(3.94,10.1)]
u156_g_ann = None
u156_g_ceph = [(1.75,11.74)]
u156_j_members = [(0.25,11.26),(0.17,12.8),(0.21,13.37),(0.15,13.5),(0.24,13.6),(0.30,13.7),(0.20,13.9),(0.27,14.0),(0.33,14.3),(0.45,14.5),(0.40,14.2),(0.37,15.2),(0.22,13.1)]
u156_j_others = [(0.37,12.76),(0.06,14.66),(0.65,14.5),(0.45,14.2)]
u156_j_parsec = [(0.48,15.82),(0.37,14.93),(0.21,13.98),(0.17,13.03),(0.19,11.94),(0.25,11.13),(0.41,10.52),(0.61,10.45),(0.65,10.18),(0.73,9.5),(0.81,8.55),(0.87,8.0)]
u156_j_mist = [(0.46,15.82),(0.35,14.93),(0.2,13.98),(0.17,13.03),(0.21,12.2),(0.29,11.26),(0.49,11.06),(0.61,11.4),(0.65,10.86),(0.73,9.77),(0.83,8.55),(0.89,8.0)]
u156_j_ann = [(0.45,15.82),(0.35,14.93),(0.19,13.98),(0.16,13.03),(0.17,11.94),(0.21,10.86),(0.33,9.77),(0.49,9.16),(0.65,9.0),(0.73,8.89),(0.77,8.41),(0.81,8.0)]
u156_j_ceph = [(0.57,9.54)]

# ---- UBC 290 ----
u290_g_members = [(0.15,10.7),(0.22,11.0),(0.30,11.2),(0.18,11.4),(0.28,11.6),(0.35,11.9),(0.42,12.1),(0.38,12.4),(0.48,12.6),(0.55,12.9),(0.52,13.2),(0.62,13.4),(0.70,13.7),(0.68,14.0),(0.78,14.2),(0.85,14.5),(0.90,14.8),(0.95,15.1),(1.00,15.4),(1.05,15.7),(1.10,16.0),(1.15,16.3),(1.20,16.6),(1.28,16.9),(1.32,17.1),(1.06,13.3),(0.45,11.3)]
u290_g_others = [(0.20,10.4)]
u290_g_parsec = [(1.71,18.28),(1.35,16.5),(0.95,15.0),(0.55,13.0),(0.25,11.3),(0.13,9.8),(0.27,8.87),(0.85,8.65),(1.35,8.87),(1.71,9.41),(2.0,8.65),(2.57,7.89),(3.29,7.57),(3.9,7.61)]
u290_g_mist = [(1.64,18.28),(1.14,15.7),(0.42,12.9),(0.13,10.9),(0.13,9.4),(0.34,8.43),(0.85,8.2),(1.28,8.33),(1.64,8.1),(1.85,8.65),(2.14,7.78),(2.72,7.24),(3.29,7.13),(3.9,7.24),None,(-0.30,18.28),(-0.26,14.6),(-0.16,11.37),(0.06,8.76),(0.34,5.76),None,(2.6,5.76),(2.72,5.83),(3.29,6.37),(3.9,7.0)]
u290_g_ann = [(1.62,18.28),(1.3,16.5),(0.9,15.0),(0.5,13.0),(0.2,11.3),(0.13,9.2),(0.27,7.78),(0.70,7.28),(1.28,7.24),(1.57,7.57),(1.71,8.22),(2.0,7.67),(2.57,7.02),(3.15,6.8),(3.58,6.91)]
u290_g_ceph = [(1.31,8.0)]
u290_j_members = [(-0.02,10.24),(0.08,10.24),(-0.03,11.43),(0.0,11.1),(0.03,11.6),(0.06,11.9),(0.10,12.1),(0.05,12.4),(0.14,12.6),(0.12,12.9),(0.18,13.1),(0.22,13.4),(0.20,13.7),(0.26,13.9),(0.30,14.1),(0.28,14.4),(0.35,14.6),(0.40,14.8),(0.45,14.9),(0.50,15.0),(0.52,15.2),(0.38,14.2),(0.15,12.2)]
u290_j_others = [(-0.34,12.25),(0.28,11.97),(0.61,12.66),(0.87,14.96),(0.15,12.25)]
u290_j_parsec = [(0.56,15.87),(0.38,14.24),(0.15,12.3),(0.04,10.56),(0.03,9.26),(0.08,7.86),(0.17,7.32),(0.36,7.1),(0.54,7.1),(0.67,7.21),(0.71,6.56),(0.76,5.8),(0.82,5.26),(0.87,4.72),(0.99,3.42)]
u290_j_mist = [(0.54,15.87),(0.36,14.24),(0.14,12.3),(0.03,10.56),(0.01,9.26),(0.04,7.53),(0.14,6.77),(0.36,6.45),(0.62,6.34),(0.73,6.45),(0.76,5.8),(0.82,5.15),(0.95,3.96),None,(0.19,5.58),(0.36,5.15),(0.58,5.04),(0.76,5.2),None,(-0.085,15.87),(-0.066,12.5),(-0.03,9.26),(0.044,6.45),(0.137,4.94),(0.266,3.64)]
u290_j_ann = [(0.52,15.87),(0.34,14.24),(0.13,12.3),(0.03,10.56),(0.03,9.26),(0.08,7.75),(0.17,6.77),(0.36,6.23),(0.58,6.13),(0.69,6.23),(0.73,5.58),(0.80,4.72),(0.91,3.85),None,(0.17,6.13),(0.36,5.69),(0.58,5.54),(0.73,5.48)]
u290_j_ceph = [(0.40,6.49)]

# axis limits per panel: (xmin, xmax), (ybottom, ytop)
c394_g_lim, c394_j_lim = ((-0.71, 4.41), (19.17, 4.18)), ((-0.70, 2.11), (16.45, 2.43))
n5662_g_lim, n5662_j_lim = ((-0.58, 4.23), (19.1, 4.14)), ((-0.80, 2.62), (16.6, 1.86))
n6067_g_lim, n6067_j_lim = ((-0.57, 4.22), (18.72, 5.81)), ((-0.79, 2.31), (16.72, 3.57))
n6087_g_lim, n6087_j_lim = ((-0.68, 4.07), (19.03, 3.42)), ((-0.91, 2.44), (16.8, 2.28))
n6649_g_lim, n6649_j_lim = ((0.65, 5.85), (18.84, 8.09)), ((-0.40, 2.41), (16.13, 3.82))
r79_g_lim, r79_j_lim = ((-0.23, 4.53), (18.62, 7.84)), ((-0.77, 2.21), (16.82, 4.94))
r100_g_lim, r100_j_lim = ((-0.20, 4.58), (18.79, 9.44)), ((-0.76, 2.61), (17.0, 5.82))
u106_g_lim, u106_j_lim = ((-0.29, 4.53), (17.79, 7.21)), ((-0.70, 2.37), (15.65, 4.31))
u130_g_lim, u130_j_lim = ((-0.32, 4.48), (18.09, 4.97)), ((-0.49, 2.10), (16.2, 2.79))
u156_g_lim, u156_j_lim = ((-0.18, 4.19), (17.93, 10.02)), ((-0.60, 2.02), (15.82, 7.98))
u290_g_lim, u290_j_lim = ((-0.84, 3.90), (18.28, 5.76)), ((-0.61, 2.04), (15.87, 3.38))

# ---------------- styles ----------------
G_STYLE = [("PARSEC", "green", (0, (3.6, 1.6))), ("MIST", "yellowgreen", (0, (5.5, 1.6, 1.2, 1.6))), ("ANN", "gray", (0, (3.2, 1.4)))]
J_STYLE = [("PARSEC", "firebrick", (0, (3.6, 1.6))), ("MIST", "darksalmon", (0, (5.5, 1.6, 1.2, 1.6))), ("ANN", "gray", (0, (3.2, 1.4)))]
CEPH_COLORS = ["#1f77b4", "mediumblue"]

W, H = 1142, 1623
COL_LEFT = [53.5, 323.3, 592.7, 862.0]
ROW_TOP = [32.3, 276.7, 584.3, 828.3, 1135.7, 1379.3]
AX_W, AX_H = 240.5, 192.0

fig = plt.figure(figsize=(W / 100, H / 100), dpi=100)


def xy(points):
    arr = np.array([(np.nan, np.nan) if p is None else p for p in points], dtype=float)
    return arr[:, 0], arr[:, 1]


def panel(row, col, band, name, members, others, isos, ages, cephs, ceph_pos, lims, ylabel_side):
    ax = fig.add_axes([COL_LEFT[col] / W, 1 - (ROW_TOP[row] + AX_H) / H, AX_W / W, AX_H / H])
    if others:
        ax.scatter(*xy(others), s=38, color="#7f7f7f", lw=0, zorder=1)
    ax.scatter(*xy(members), s=24, color="k", lw=0, zorder=2)

    styles = G_STYLE if band == "G" else J_STYLE
    handles = []
    for (model, color, dash), iso, age in zip(styles, isos, ages):
        if iso is None or age is None:
            continue
        lw = 2.9 if model == "ANN" else 2.2
        ax.plot(*xy(iso), color=color, lw=lw, ls=dash, zorder=3 if model != "ANN" else 2.5)
        handles.append(Line2D([], [], color=color, lw=3,
                              label=model + r" $\log(t) = %.2f$" % age))
    for cname, pos, ccol in zip(cephs, ceph_pos, CEPH_COLORS):
        ax.plot(pos[0], pos[1], "s", ms=7.5, color=ccol, zorder=5)
        handles.append(Line2D([], [], ls="none", marker="s", ms=4.5, color=ccol, label=cname))

    leg = ax.legend(handles=handles, title=name, loc="lower right", bbox_to_anchor=(1.0, 0.2),
                    fontsize=7.6, title_fontproperties={"family": "cmb10", "size": 9.5},
                    handlelength=0.5, handletextpad=0.5, labelspacing=0.12,
                    borderpad=0.45, borderaxespad=0.2, frameon=True)
    leg.set_zorder(10)

    ax.set_xlim(*lims[0])
    ax.set_ylim(*lims[1])
    ax.xaxis.set_major_locator(MultipleLocator(2 if band == "G" else 1))
    ax.xaxis.set_minor_locator(MultipleLocator(1 if band == "G" else 0.5))
    ax.yaxis.set_major_locator(MultipleLocator(5))
    ax.yaxis.set_minor_locator(MultipleLocator(2.5))
    ax.tick_params(which="both", direction="in", top=True, right=True, length=5, width=0.9,
                   color="#444444", labelsize=12.5)
    for sp in ax.spines.values():
        sp.set_color("#555555")
        sp.set_linewidth(1.0)

    if band == "G":
        ax.set_xlabel(r"$BP-RP$", fontsize=16, labelpad=8)
        ax.xaxis.set_label_position("top")
    else:
        ax.set_xlabel(r"$J-H$", fontsize=16, labelpad=6)
    if ylabel_side:
        ax.set_ylabel(r"$%s$" % band, fontsize=16)
        if ylabel_side == "right":
            ax.yaxis.set_label_position("right")
            ax.yaxis.labelpad = 10
    return ax


blocks = [
    [("c394", c394_name, c394_cephs), ("n5662", n5662_name, n5662_cephs),
     ("n6067", n6067_name, n6067_cephs), ("n6087", n6087_name, n6087_cephs)],
    [("n6649", n6649_name, n6649_cephs), ("r79", r79_name, r79_cephs),
     ("r100", r100_name, r100_cephs), ("u106", u106_name, u106_cephs)],
    [("u130", u130_name, u130_cephs), ("u156", u156_name, u156_cephs),
     ("u290", u290_name, u290_cephs)],
]

data = globals()
for b, block in enumerate(blocks):
    last = len(block) - 1
    for col, (key, name, cephs) in enumerate(block):
        side = "left" if col == 0 else ("right" if col == last else None)
        for k, band in enumerate(["g", "j"]):
            p = key + "_" + band + "_"
            panel(2 * b + k, col, band.upper(), name,
                  data[p + "members"], data[p + "others"],
                  [data[p + "parsec"], data[p + "mist"], data[p + "ann"]],
                  data[p + "ages"], cephs, data[p + "ceph"], data[p + "lim"], side)

fig.savefig("out.png", dpi=100)
